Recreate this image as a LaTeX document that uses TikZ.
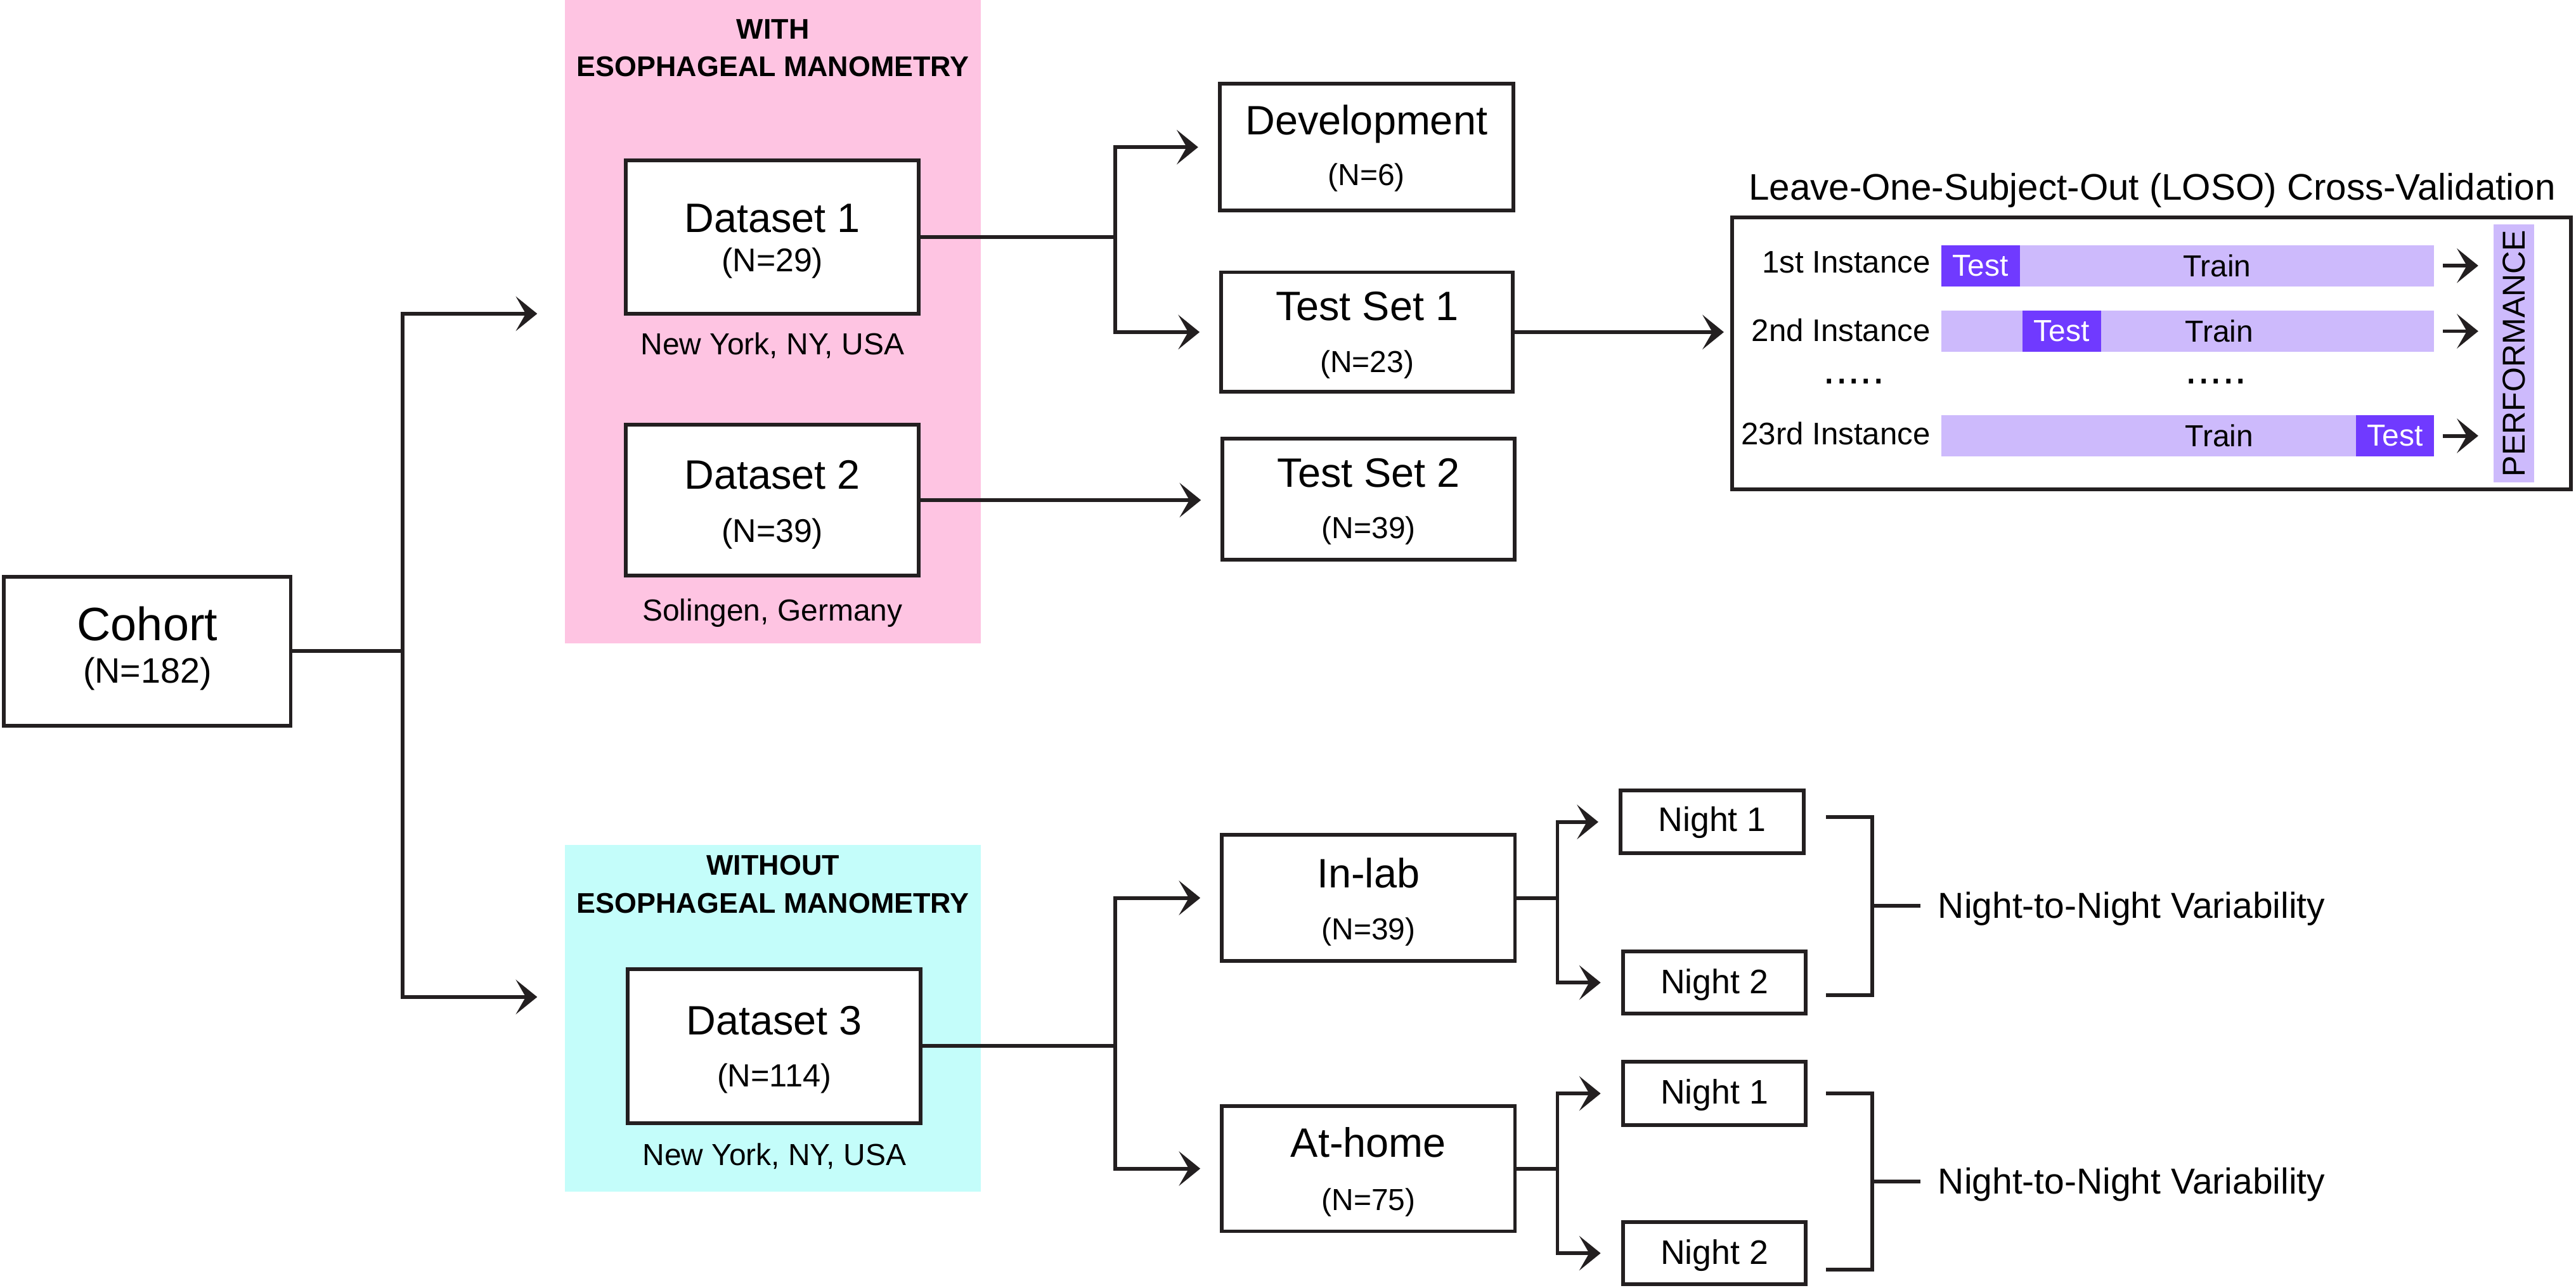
\documentclass[tikz,border=0pt]{standalone}
\usepackage{fontspec}
\setmainfont{Liberation Sans}
\usetikzlibrary{arrows.meta}
\definecolor{ink}{RGB}{35,31,32}
\definecolor{pinkbg}{RGB}{254,196,226}
\definecolor{cyanbg}{RGB}{196,253,250}
\definecolor{trainc}{RGB}{205,186,252}
\definecolor{testc}{RGB}{112,58,255}
\newcommand\fsz[1]{\fontsize{#1pt}{#1pt}\selectfont}
\begin{document}
\begin{tikzpicture}[x=1pt,y=-1pt,
  region/.style={rectangle, inner sep=0pt, draw=none},
  box/.style={rectangle, draw=ink, line width=2.3pt, fill=white, inner sep=0pt},
  txt/.style={anchor=base, inner sep=0pt, text=black},
  conn/.style={draw=ink, line width=2.3pt},
  arr/.style={conn, -{Stealth[length=13pt,width=21pt,inset=6pt]}},
  bar/.style={rectangle, inner sep=0pt, draw=none, fill=trainc, minimum width=300.1pt, minimum height=25.1pt},
  testbox/.style={rectangle, inner sep=0pt, draw=none, fill=testc, text=white, minimum width=47.7pt, minimum height=25.1pt, font=\fsz{18.5}},
]
\useasboundingbox (0,0) rectangle (1568,784);

% coloured regions
\node[region, fill=pinkbg, minimum width=253pt, minimum height=391.7pt] (withem) at (470.5,195.85) {};
\node[region, fill=cyanbg, minimum width=253pt, minimum height=211.2pt] (withoutem) at (470.5,620) {};
\node[txt] (h1a) at (470.5,23.9) {\fsz{17.3}\bfseries WITH};
\node[txt] (h1b) at (470.5,46.4) {\fsz{17.3}\bfseries ESOPHAGEAL MANOMETRY};
\node[txt] (h2a) at (470.5,532.6) {\fsz{17.3}\bfseries WITHOUT};
\node[txt] (h2b) at (470.5,555.8) {\fsz{17.3}\bfseries ESOPHAGEAL MANOMETRY};

% boxes
\node[box, minimum width=174.5pt, minimum height=91pt] (cohort) at (89.7,396.5) {};
\node[box, minimum width=178.4pt, minimum height=93.4pt] (ds1) at (470.15,144.35) {};
\node[box, minimum width=178.4pt, minimum height=91.9pt] (ds2) at (470.15,304.5) {};
\node[box, minimum width=178.3pt, minimum height=93.8pt] (ds3) at (471.3,636.85) {};
\node[box, minimum width=178.6pt, minimum height=77.1pt] (dev) at (831.75,89.6) {};
\node[box, minimum width=177.5pt, minimum height=72.9pt] (ts1) at (832.1,202.2) {};
\node[box, minimum width=177.9pt, minimum height=73.6pt] (ts2) at (833.1,303.85) {};
\node[box, minimum width=178.4pt, minimum height=76.9pt] (inlab) at (832.95,546.7) {};
\node[box, minimum width=178.4pt, minimum height=76.3pt] (athome) at (832.95,711.5) {};
\node[box, minimum width=111.3pt, minimum height=38.2pt] (n1a) at (1042.2,500.45) {};
\node[box, minimum width=111.3pt, minimum height=37.8pt] (n2a) at (1043.6,598.25) {};
\node[box, minimum width=111.3pt, minimum height=38.6pt] (n1b) at (1043.6,665.75) {};
\node[box, minimum width=111.3pt, minimum height=37.7pt] (n2b) at (1043.6,763) {};
\node[box, minimum width=510.4pt, minimum height=165.5pt] (loso) at (1309.65,215) {};

% box texts
\node[txt] (tcoh1) at (89.7,390) {\fsz{28.5}Cohort};
\node[txt] (tcoh2) at (89.7,416) {\fsz{21.5}(N=182)};
\node[txt] (tds1a) at (470.15,141.5) {\fsz{25}Dataset 1};
\node[txt] (tds1b) at (470.15,165.3) {\fsz{20}(N=29)};
\node[txt] (tds1c) at (470.15,216) {\fsz{18.5}New York, NY, USA};
\node[txt] (tds2a) at (470.15,297.6) {\fsz{25}Dataset 2};
\node[txt] (tds2b) at (470.15,330.2) {\fsz{20}(N=39)};
\node[txt] (tds2c) at (470.15,377.9) {\fsz{18.5}Solingen, Germany};
\node[txt] (tds3a) at (471.3,630.1) {\fsz{25}Dataset 3};
\node[txt] (tds3b) at (471.3,661.7) {\fsz{19.5}(N=114)};
\node[txt] (tds3c) at (471.3,709.4) {\fsz{18.5}New York, NY, USA};
\node[txt] (tdev1) at (831.75,82.2) {\fsz{25}Development};
\node[txt] (tdev2) at (831.75,113) {\fsz{18.5}(N=6)};
\node[txt] (tts1a) at (832.1,195.1) {\fsz{25}Test Set 1};
\node[txt] (tts1b) at (832.1,226.6) {\fsz{18.5}(N=23)};
\node[txt] (tts2a) at (833.1,296.4) {\fsz{25}Test Set 2};
\node[txt] (tts2b) at (833.1,328) {\fsz{18.5}(N=39)};
\node[txt] (tin1) at (832.95,540.3) {\fsz{25}In-lab};
\node[txt] (tin2) at (832.95,572) {\fsz{18.5}(N=39)};
\node[txt] (tat1) at (832.95,704.4) {\fsz{25}At-home};
\node[txt] (tat2) at (832.95,737) {\fsz{18.5}(N=75)};
\node[txt] (tn1a) at (1042.2,506.3) {\fsz{20.7}Night 1};
\node[txt] (tn2a) at (1043.6,604.9) {\fsz{20.7}Night 2};
\node[txt] (tn1b) at (1043.6,672) {\fsz{20.7}Night 1};
\node[txt] (tn2b) at (1043.6,769.7) {\fsz{20.7}Night 2};

% LOSO panel
\node[txt] (losot) at (1310,121.6) {\fsz{22.5}Leave-One-Subject-Out (LOSO) Cross-Validation};
\node[txt, anchor=base east] (i1) at (1175.2,166) {\fsz{19}1st Instance};
\node[txt, anchor=base east] (i2) at (1175.2,207.7) {\fsz{19}2nd Instance};
\node[txt, anchor=base east] (i3) at (1175.2,270.8) {\fsz{19}23rd Instance};
\node[bar] (bar1) at (1331.65,161.75) {};
\node[bar] (bar2) at (1331.65,201.65) {};
\node[bar] (bar3) at (1331.65,265.35) {};
\node[testbox] (tb1) at (1205.55,161.75) {Test};
\node[testbox] (tb2) at (1254.95,201.65) {Test};
\node[testbox] (tb3) at (1457.85,265.35) {Test};
\node[txt] (tr1) at (1349.5,168.4) {\fsz{18.5}Train};
\node[txt] (tr2) at (1350.8,208.3) {\fsz{18.5}Train};
\node[txt] (tr3) at (1350.8,272) {\fsz{18.5}Train};
\node[txt] (dots1) at (1128.5,233.5) {\fsz{27}.....};
\node[txt] (dots2) at (1349,233.5) {\fsz{27}.....};
\node[rectangle, inner sep=0pt, fill=trainc, rotate=90, minimum width=157.1pt, minimum height=24.7pt] (perf) at (1530.35,215.15) {\fsz{19.3}PERFORMANCE};
\coordinate (perfL) at (1518,215.15);
\foreach \b in {bar1,bar2,bar3}{
  \draw[arr, shorten <=5pt, shorten >=9.5pt] (\b.east) -- (\b.east -| perfL);
}

% side labels
\node[txt, anchor=base west] (var1) at (1179.5,559) {\fsz{22}Night-to-Night Variability};
\node[txt, anchor=base west] (var2) at (1179.5,727) {\fsz{22}Night-to-Night Variability};

% connectors
\coordinate (j0) at (245,396.5);
\coordinate (ca) at (327,191);
\coordinate (cb) at (327,607);
\draw[arr] (cohort.east) -- (j0) |- (ca);
\draw[arr] (j0) |- (cb);

\coordinate (j1) at (679,144.35);
\draw[arr, shorten >=12pt] (ds1.east) -- (j1) |- (dev.west);
\draw[arr, shorten >=12pt] (j1) |- (ts1.west);
\draw[arr, shorten >=12pt] (ds2.east) -- (ds2.east -| ts2.west);
\draw[arr, shorten >=4pt] (ts1.east) -- (ts1.east -| loso.west);

\coordinate (j3) at (679,636.85);
\draw[arr, shorten >=12pt] (ds3.east) -- (j3) |- (inlab.west);
\draw[arr, shorten >=12pt] (j3) |- (athome.west);

\coordinate (j4) at (948,546.7);
\draw[arr, shorten >=12.5pt] (inlab.east) -- (j4) |- (n1a.west);
\draw[arr, shorten >=12.5pt] (j4) |- (n2a.west);
\coordinate (j5) at (948,711.5);
\draw[arr, shorten >=12.5pt] (athome.east) -- (j5) |- (n1b.west);
\draw[arr, shorten >=12.5pt] (j5) |- (n2b.west);

% brackets
\coordinate (bt1) at (1111.6,497.4);
\coordinate (bb1) at (1111.6,605.9);
\coordinate (bm1) at (1139.5,551.65);
\draw[conn] (bt1) -- (1139.5,497.4) -- (1139.5,605.9) -- (bb1);
\draw[conn, shorten >=10.5pt] (bm1) -- (bm1 -| var1.west);
\coordinate (bt2) at (1111.6,665.6);
\coordinate (bb2) at (1111.6,773);
\coordinate (bm2) at (1139.5,719.3);
\draw[conn] (bt2) -- (1139.5,665.6) -- (1139.5,773) -- (bb2);
\draw[conn, shorten >=10.5pt] (bm2) -- (bm2 -| var2.west);
\end{tikzpicture}
\end{document}
